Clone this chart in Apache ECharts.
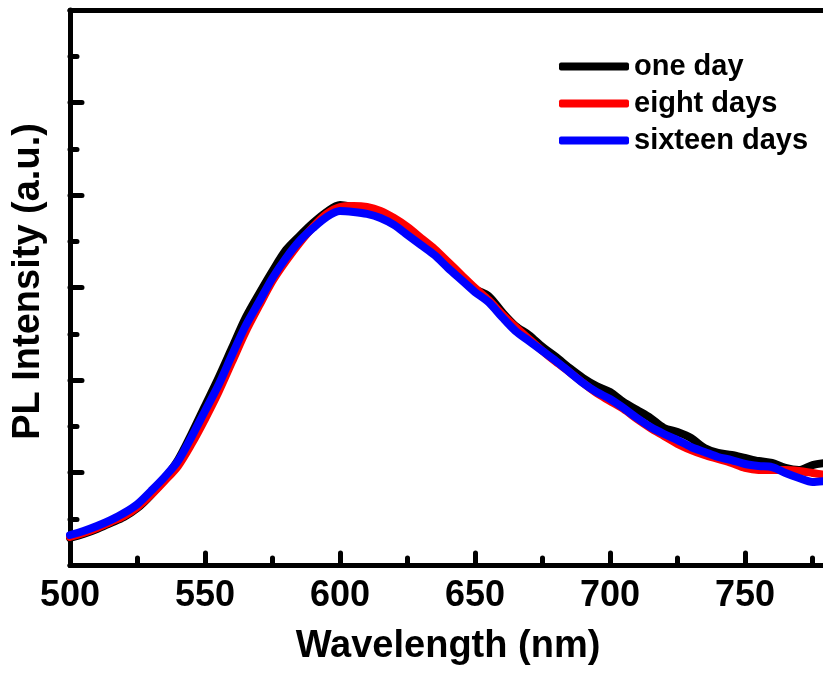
<!DOCTYPE html>
<html>
<head>
<meta charset="utf-8">
<script src="https://cdn.jsdelivr.net/npm/echarts@6/dist/echarts.min.js"></script>
<style>html,body{margin:0;padding:0;background:#fff}#c{width:823px;height:675px}</style>
</head>
<body>
<div id="c"></div>
<script>
const wavelengths = [500,505,510,515,520,525,530,535,540,545,550,555,560,565,570,575,580,585,590,595,600,605,610,615,620,625,630,635,640,645,650,655,660,665,670,675,680,685,690,695,700,705,710,715,720,725,730,735,740,745,750,755,760,765,770,775,780];
const oneDay = [0.292,0.335,0.389,0.454,0.519,0.616,0.757,0.93,1.135,1.416,1.719,2.022,2.346,2.67,2.93,3.178,3.405,3.557,3.697,3.816,3.892,3.87,3.838,3.784,3.708,3.6,3.481,3.395,3.265,3.124,2.984,2.908,2.735,2.584,2.486,2.357,2.249,2.13,2.022,1.935,1.87,1.762,1.676,1.589,1.481,1.438,1.373,1.265,1.211,1.189,1.157,1.124,1.103,1.049,1.027,1.081,1.103];
const eightDays = [0.303,0.346,0.4,0.465,0.53,0.627,0.757,0.908,1.07,1.308,1.578,1.87,2.195,2.519,2.8,3.07,3.286,3.481,3.654,3.795,3.87,3.881,3.87,3.827,3.751,3.654,3.535,3.416,3.276,3.135,2.995,2.865,2.714,2.573,2.443,2.314,2.195,2.086,1.968,1.859,1.773,1.686,1.578,1.481,1.395,1.308,1.243,1.189,1.146,1.103,1.049,1.027,1.027,1.027,1.016,0.995,0.973];
const sixteenDays = [0.324,0.368,0.422,0.486,0.562,0.659,0.8,0.95,1.124,1.384,1.665,1.946,2.27,2.584,2.843,3.103,3.319,3.503,3.643,3.762,3.827,3.816,3.795,3.751,3.676,3.568,3.459,3.351,3.211,3.081,2.951,2.843,2.681,2.53,2.422,2.314,2.205,2.086,1.968,1.87,1.795,1.697,1.589,1.492,1.416,1.351,1.276,1.222,1.168,1.135,1.092,1.07,1.059,0.995,0.941,0.897,0.908];
const seriesNames = ['one day','eight days','sixteen days'];
const seriesColors = ['#000000','#ff0000','#0000ff'];
const xTitle = 'Wavelength (nm)';
const yTitle = 'PL Intensity (a.u.)';

const FONT = '"Liberation Sans", Arial, sans-serif';
const chart = echarts.init(document.getElementById('c'), null, {renderer:'canvas'});
const allData = [oneDay, eightDays, sixteenDays];
const tickStyle = {color:'#000', width:5, cap:'round'};
chart.setOption({
  animation:false,
  backgroundColor:'#fff',
  grid:{left:70, top:10, width:756, height:555, containLabel:false, outerBoundsMode:'none'},
  legend:{
    orient:'vertical', left:554, top:47, itemGap:8,
    itemWidth:70, itemHeight:8, icon:'roundRect',
    textStyle:{fontFamily:FONT, fontWeight:'bold', fontSize:29, color:'#000', padding:[0,0,0,0]},
    data:seriesNames
  },
  xAxis:[{
    type:'value', min:500, max:780, interval:50,
    name:xTitle, nameLocation:'middle', nameGap:63,
    nameTextStyle:{fontFamily:FONT, fontWeight:'bold', fontSize:38, color:'#000'},
    axisLine:{lineStyle:{color:'#000', width:5}},
    axisTick:{inside:true, length:12, lineStyle:tickStyle},
    minorTick:{show:true, splitNumber:2, length:7, lineStyle:tickStyle},
    axisLabel:{fontFamily:FONT, fontWeight:'bold', fontSize:36, color:'#000', margin:13, showMaxLabel:false,
      formatter:(v)=> (v % 50 === 0 ? String(v) : '')},
    splitLine:{show:false}
  },{
    type:'value', min:500, max:780, position:'top',
    axisLine:{show:true, lineStyle:{color:'#000', width:5}},
    axisTick:{show:false}, axisLabel:{show:false}, splitLine:{show:false}
  }],
  yAxis:{
    type:'value', min:0, max:6, interval:1,
    name:yTitle, nameLocation:'middle', nameGap:22, nameRotate:90,
    nameTextStyle:{fontFamily:FONT, fontWeight:'bold', fontSize:38, color:'#000', padding:[0,0,0,12]},
    axisLine:{show:true, lineStyle:{color:'#000', width:5}},
    axisTick:{inside:true, length:12, lineStyle:tickStyle},
    minorTick:{show:true, splitNumber:2, length:7, lineStyle:tickStyle},
    axisLabel:{show:false},
    splitLine:{show:false}
  },
  series: seriesNames.map((n,i)=>({
    name:n, type:'line', xAxisIndex:0,
    data: wavelengths.map((w,j)=>[w, allData[i][j]]),
    showSymbol:false, symbol:'none', smooth:0.3,
    lineStyle:{color:seriesColors[i], width:8, cap:'round', join:'round'},
    itemStyle:{color:seriesColors[i]},
    z: 2+i
  }))
});
</script>
</body>
</html>
